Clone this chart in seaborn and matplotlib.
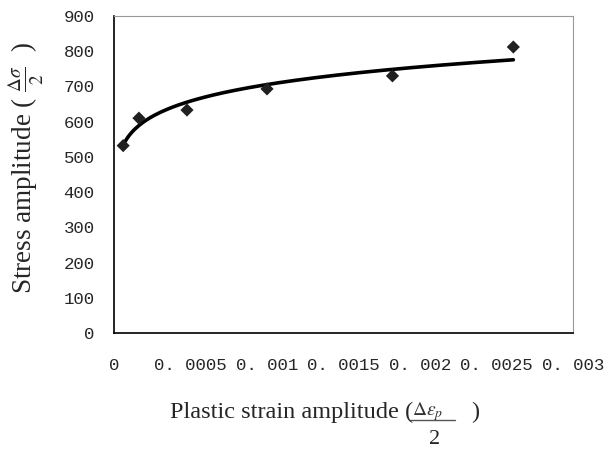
import numpy as np
import pandas as pd
import matplotlib
matplotlib.use("Agg")
import matplotlib.pyplot as plt
from matplotlib.lines import Line2D
import seaborn as sns

# --- data ---
strain_amp = [0.00006, 0.000163, 0.000477, 0.001, 0.00182, 0.00261]
stress_amp = [532, 610, 633, 693, 730, 812]
x_ticks = [0, 0.0005, 0.001, 0.0015, 0.002, 0.0025, 0.003]
x_tick_labels = ["0", "0. 0005", "0. 001", "0. 0015", "0. 002", "0. 0025", "0. 003"]
y_ticks = [0, 100, 200, 300, 400, 500, 600, 700, 800, 900]

df = pd.DataFrame({"strain": strain_amp, "stress": stress_amp})

# power-law trendline (fit in log-log space), like the spreadsheet "power" trend
slope, icpt = np.polyfit(np.log(df["strain"]), np.log(df["stress"]), 1)
fit = pd.DataFrame({"strain": np.linspace(df["strain"].min(), df["strain"].max(), 200)})
fit["stress"] = np.exp(icpt) * fit["strain"] ** slope

sns.set_style("white")
plt.rcParams["font.family"] = ["Liberation Serif", "DejaVu Sans"]
plt.rcParams["mathtext.fontset"] = "stix"

W, H = 605, 449
fig = plt.figure(figsize=(W / 100, H / 100), dpi=100)
ax = fig.add_axes([114 / W, 1 - 333 / H, 459 / W, 317 / H])

sns.lineplot(data=fit, x="strain", y="stress", color="black", linewidth=2.6, ax=ax)
sns.scatterplot(data=df, x="strain", y="stress", marker="D", color="#202020",
                s=45, edgecolor="none", ax=ax, zorder=3)

ax.set_xlim(0, 0.003)
ax.set_ylim(0, 900)
tick_font = ["Liberation Mono", "DejaVu Sans"]
ax.set_xticks(x_ticks)
ax.set_xticklabels(x_tick_labels, family=tick_font, fontsize=12.5)
ax.set_yticks(y_ticks)
ax.set_yticklabels([str(v) for v in y_ticks], family=tick_font, fontsize=12.5)
ax.tick_params(axis="both", direction="in", length=4, width=1, color="black")
ax.tick_params(axis="y", pad=14)
ax.tick_params(axis="x", pad=18)

for side in ["left", "bottom"]:
    ax.spines[side].set_color("black")
    ax.spines[side].set_linewidth(1.2)
for side in ["top", "right"]:
    ax.spines[side].set_color("#999999")
    ax.spines[side].set_linewidth(0.8)

ax.set_xlabel("")
ax.set_ylabel(r"Stress amplitude ( $\frac{\mathit{\Delta}\sigma}{2}$  )", fontsize=19.5)
ax.yaxis.set_label_coords(-0.19, 0.522)
ax.yaxis.label.set_va("center")

# x label assembled like the original equation-object layout
def px(x, y):
    return x / W, 1 - y / H

fig.text(*px(170, 418), "Plastic strain amplitude (", fontsize=17.5, va="baseline")
fig.text(*px(412, 415), r"$\mathit{\Delta}\varepsilon_p$", fontsize=14, color="#333333",
         ha="left", va="baseline")
fig.add_artist(Line2D([410 / W, 455 / W], [1 - 420 / H] * 2, color="#555555", lw=1))
fig.text(*px(435, 444), "2", fontsize=16, ha="center", va="baseline")
fig.text(*px(471, 418), ")", fontsize=17.5, va="baseline")

fig.savefig("out.png", dpi=100)
